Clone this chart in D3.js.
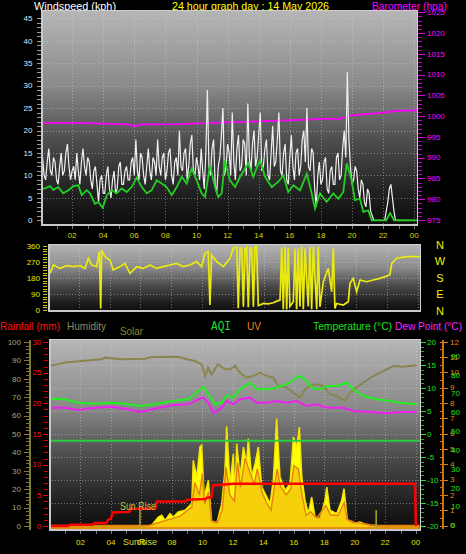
<!DOCTYPE html>
<html><head><meta charset="utf-8">
<script src="https://cdn.jsdelivr.net/npm/d3@7"></script>
<style>html,body{margin:0;padding:0;background:#000;}svg{display:block;font-family:"Liberation Sans",Arial,sans-serif;}</style>
</head><body><svg id="c" width="466" height="554"></svg>
<script>
// ---------------- DATA ----------------
const titleText = "24 hour graph day : 14 May 2026";
const hourTicks = [2,4,6,8,10,12,14,16,18,20,22,24];
const windTicks = [0,5,10,15,20,25,30,35,40,45];
const baroTicks = [975,980,985,990,995,1000,1005,1010,1015,1020,1025];
const dirTicks = [0,90,180,270,360];
const compass = ["N","W","S","E","N"];
const humTicks = [0,10,20,30,40,50,60,70,80,90,100];
const rainTicks = [0,5,10,15,20,25,30];
const tempTicks = [-20,-15,-10,-5,0,5,10,15,20];
const uvTicks = [0,1,2,3,4,5,6,7,8,9,10,11,12];
const aqiTicks = [0,10,20,30,40,50,60,70,80,90];

// wind gust (kph) sampled every 0.1 h from 00:06
const gustValues = [
  14,10,9,13,16,11,10,14,13,9,8,12,15,10,11,15,17,12,9,11,12,9,15,11,8,13,16,12,10,14,13,9,7,11,12,8,4,9,10,6,
  6,10,12,7,5,9,11,6,7,12,13,8,8,11,12,9,9,13,14,10,18,11,9,15,14,10,8,12,16,11,9,14,13,10,18,12,10,14,15,9,
  11,15,16,10,8,13,14,10,20,12,11,15,16,9,12,17,19,11,10,14,12,9,16,11,7,15,29,12,10,16,18,8,6,12,14,19,25,10,12,17,
  15,10,24,13,9,16,19,11,12,18,17,10,26,14,11,17,20,12,14,19,24,11,12,16,18,10,9,15,21,12,13,18,24,11,10,15,17,9,8,14,
  19,12,9,15,16,10,12,18,20,13,25,12,11,16,15,7,3,10,13,8,9,13,14,7,6,11,12,8,8,14,15,9,10,16,20,14,33,18,12,8,
  9,12,11,7,5,9,8,4,3,7,6,2,1,0,0,0,0,0,0,0,0,2,4,7,8,5,2,0,0,0,0,0,0,0,0,0,0,0,0,0];
// average wind speed [hour, kph]
const avgWind = [[0.06,7.0],[0.26,7.1],[0.58,7.6],[0.79,6.8],[1.11,7.4],[1.43,6.0],[1.76,6.7],[2.08,7.6],[2.40,7.8],[2.62,5.6],[2.94,6.7],[3.15,6.0],[3.47,3.7],[3.68,4.1],[3.97,2.8],[4.23,5.6],[4.55,6.7],[4.87,6.0],[5.19,7.1],[5.51,6.3],[5.83,7.4],[6.15,9.5],[6.48,7.4],[6.80,6.0],[7.12,6.7],[7.44,8.9],[7.76,8.2],[8.08,7.4],[8.41,5.6],[8.73,7.4],[9.05,9.7],[9.37,8.2],[9.69,11.5],[10.01,8.9],[10.33,6.0],[10.55,5.2],[10.87,12.3],[11.19,7.4],[11.40,5.2],[11.62,6.0],[11.83,13.4],[12.15,8.9],[12.48,7.4],[12.80,9.7],[13.33,12.7],[13.65,9.7],[14.08,13.4],[14.41,9.7],[14.84,7.4],[15.26,8.6],[15.58,10.0],[15.90,6.3],[16.23,7.8],[16.66,6.7],[17.09,10.4],[17.41,6.0],[17.62,2.6],[17.94,6.0],[18.37,4.1],[18.80,6.0],[19.12,4.8],[19.44,6.3],[19.66,12.7],[19.98,8.9],[20.19,4.5],[20.51,4.8],[20.73,1.9],[21.05,2.2],[21.27,0],[22.2,0],[22.45,1.6],[22.7,0],[24.3,0]];
// barometer [hour, hPa]
const baro = [[0.0,998.4],[2,998.4],[4,998.2],[5.5,998.0],[6.1,997.6],[6.4,998.0],[9,998.1],[11.7,998.5],[13,998.6],[15.3,998.9],[17.5,999.2],[18.5,999.4],[19.1,999.3],[20,1000.2],[20.9,1000.5],[21.8,1000.8],[23,1001.3],[24.3,1001.4]];
// wind direction [hour, degrees]
const windDir = [[0.13,206],[0.35,253],[0.78,234],[1.21,249],[1.64,244],[2.08,249],[2.40,234],[2.62,291],[2.84,253],[3.16,244],[3.33,328],[3.42,9],[3.48,337],[3.70,300],[4.02,281],[4.24,225],[4.67,244],[4.99,262],[5.32,206],[5.76,244],[6.18,234],[6.62,253],[7.05,234],[7.48,244],[7.92,253],[8.35,262],[8.78,244],[9.21,253],[9.65,272],[9.97,244],[10.19,319],[10.40,328],[10.51,28],[10.62,309],[10.95,272],[11.38,244],[11.81,291],[12.02,347],[12.25,356],[12.35,10],[12.46,350],[12.57,347],[12.68,19],[12.78,340],[12.89,356],[13.0,15],[13.11,350],[13.22,347],[13.33,19],[13.43,355],[13.54,356],[13.65,25],[13.76,28],[13.97,37],[14.3,35],[14.62,41],[14.85,50],[15.06,56],[15.17,350],[15.27,5],[15.38,355],[15.49,3],[15.59,350],[15.70,20],[15.92,47],[16.03,345],[16.14,5],[16.24,345],[16.35,20],[16.46,355],[16.57,5],[16.68,345],[16.89,20],[17.00,355],[17.11,5],[17.22,355],[17.44,5],[17.54,355],[17.65,19],[17.87,159],[18.19,234],[18.41,103],[18.52,347],[18.62,9],[18.73,37],[19.16,28],[19.49,47],[19.60,150],[19.81,178],[20.03,103],[20.25,169],[20.68,159],[21.11,169],[21.54,178],[22.19,197],[22.30,260],[22.41,272],[22.63,291],[23.28,300],[24.2,300]];
// humidity [hour, %]
const humidity = [[0.0,87.3],[0.22,87.3],[0.98,88.8],[2.08,89.7],[3.39,90.6],[3.6,91.5],[4.7,90.6],[6.23,90.9],[6.67,91.8],[8.4,92.0],[8.86,90.9],[9.5,89.7],[9.95,87.9],[10.17,81.5],[10.37,86.0],[10.6,82.4],[11.02,87.9],[11.48,85.2],[11.81,85.2],[12.14,87.0],[12.47,83.3],[12.9,80.6],[13.34,81.5],[13.78,83.3],[14.22,81.5],[14.65,80.6],[14.98,76.1],[15.53,75.2],[15.96,72.4],[16.4,69.7],[16.73,74.3],[17.06,76.1],[17.5,77.0],[17.93,76.1],[18.37,71.6],[18.81,70.7],[19.36,67.9],[19.69,72.4],[20.12,75.2],[20.56,77.9],[21.21,81.5],[22.1,85.2],[22.53,87.0],[23.18,86.6],[24.06,87.3]];
// temperature [hour, °C]
const temperature = [[0.0,7.6],[0.22,7.67],[0.98,7.54],[1.86,6.8],[2.95,6.59],[4.05,6.8],[4.92,6.59],[5.91,6.09],[6.89,6.46],[7.99,7.17],[9.07,7.54],[9.73,9.35],[10.06,10.28],[10.39,8.63],[10.83,6.46],[11.27,6.8],[11.6,8.4],[12.03,7.9],[12.47,9.72],[13.12,11.15],[13.56,9.72],[14.22,9.72],[14.87,10.07],[15.75,11.15],[16.29,12.6],[16.73,11.9],[17.17,10.07],[17.72,9.72],[18.16,10.43],[18.81,10.43],[19.47,11.15],[19.9,9.72],[20.56,8.26],[21.44,7.54],[22.31,7.17],[22.97,6.8],[24.06,6.46]];
// dew point [hour, °C]
const dewPoint = [[0.0,5.72],[0.22,5.72],[0.98,5.72],[1.86,5.22],[2.95,5.72],[4.05,5.94],[4.92,5.5],[5.91,4.78],[6.89,5.5],[7.99,6.24],[9.07,6.46],[9.73,7.54],[10.06,7.9],[10.39,6.8],[10.72,4.5],[11.27,5.72],[11.6,7.17],[12.03,6.46],[12.47,7.54],[13.12,7.9],[13.56,6.8],[14.22,6.8],[14.87,7.17],[15.53,6.8],[16.19,7.17],[16.84,6.09],[17.5,6.46],[18.16,5.72],[19.25,5.72],[19.9,5.0],[21.0,4.78],[22.1,4.5],[22.97,4.78],[24.06,4.78]];
// air quality index [hour, AQI]
const aqi = [[0,45],[6,45],[12,45],[18,45],[24.3,45]];
// rainfall, cumulative [hour, mm]
const rainfall = [[0.0,0],[1.2,0],[1.3,0.2],[2.8,0.2],[2.9,0.5],[3.7,0.5],[3.8,1.0],[4.0,1.2],[4.1,2.2],[5.2,2.3],[5.3,2.8],[6.9,2.8],[7.0,4.0],[8.9,4.0],[9.0,4.3],[10.2,4.4],[10.3,4.6],[10.6,4.7],[10.7,6.6],[12.0,6.9],[23.95,6.9],[24.0,0]];
// solar radiation [hour, W/m²]
const solar = [[0,0],[6.23,0],[6.67,9],[7.11,54],[7.33,64],[7.55,36],[7.87,72],[8.09,54],[8.42,82],[8.86,91],[9.30,127],[9.40,362],[9.63,272],[9.84,435],[9.95,444],[10.12,163],[10.39,254],[10.61,27],[10.94,18],[11.27,127],[11.48,308],[11.59,547],[11.81,235],[12.03,398],[12.14,163],[12.25,453],[12.47,272],[12.69,435],[12.9,344],[13.01,480],[13.23,272],[13.45,344],[13.67,435],[13.89,217],[14.11,181],[14.44,127],[14.65,254],[14.87,589],[15.09,272],[15.42,199],[15.75,235],[15.97,489],[16.19,435],[16.36,543],[16.52,272],[16.73,145],[16.95,72],[17.17,163],[17.39,54],[17.72,45],[18.04,145],[18.16,217],[18.37,91],[18.81,72],[19.14,145],[19.29,208],[19.51,36],[19.9,18],[20.34,27],[21.0,4],[21.44,0],[24.2,0]];
// UV index [hour, UV]
const uv = [[0,0],[6.5,0],[7.5,0.3],[8.5,0.6],[9.3,1.2],[9.5,2.8],[9.8,2.0],[10.0,3.4],[10.15,1.4],[10.4,2.2],[10.6,0.3],[11.0,0.2],[11.3,1.0],[11.55,3.8],[11.8,2.0],[12.1,1.6],[12.3,4.1],[12.5,2.5],[12.8,4.4],[13.1,3.5],[13.4,2.7],[13.6,3.7],[13.9,2.2],[14.2,1.5],[14.5,1.0],[14.9,3.7],[15.1,2.6],[15.5,2.0],[15.8,2.4],[16.0,3.9],[16.3,3.7],[16.5,2.2],[16.8,0.65],[17.1,0.9],[17.5,0.5],[18.1,1.3],[18.4,0.7],[18.9,0.65],[19.3,1.5],[19.5,0.4],[20.0,0.2],[21.0,0.05],[21.5,0],[24.2,0]];
const sunRiseHour = 5.9;
const sunSetHour = 21.4;

// ---------------- DRAW ----------------
const svg = d3.select('#c');
const defs = svg.append('defs');
const grad = defs.append('linearGradient').attr('id','bg').attr('x1',0).attr('y1',0).attr('x2',0).attr('y2',1);
grad.selectAll('stop').data([[0,'#b6b6b6'],[0.35,'#8a8a8a'],[0.6,'#4e4e4e'],[0.85,'#202020'],[1,'#0c0c0c']])
  .join('stop').attr('offset',d=>d[0]).attr('stop-color',d=>d[1]);

function panel(p, id){
  defs.append('clipPath').attr('id',id).append('rect').attr('x',p.x0).attr('y',p.y0).attr('width',p.x1-p.x0).attr('height',p.y1-p.y0);
  svg.append('rect').attr('x',p.x0).attr('y',p.y0).attr('width',p.x1-p.x0).attr('height',p.y1-p.y0).attr('fill','url(#bg)');
}
function border(p){
  svg.append('line').attr('x1',p.x0+1).attr('x2',p.x0+1).attr('y1',p.y0).attr('y2',p.y1).attr('stroke','#c8c8c8').attr('stroke-width',2);
  svg.append('line').attr('x1',p.x0).attr('x2',p.x1).attr('y1',p.y1-1).attr('y2',p.y1-1).attr('stroke','#c8c8c8').attr('stroke-width',2);
  svg.append('line').attr('x1',p.x0).attr('x2',p.x1).attr('y1',p.y0+0.5).attr('y2',p.y0+0.5).attr('stroke','#d0d0d0').attr('stroke-width',1);
  svg.append('line').attr('x1',p.x1-0.5).attr('x2',p.x1-0.5).attr('y1',p.y0).attr('y2',p.y1).attr('stroke','#d0d0d0').attr('stroke-width',1);
}
function hgrid(p, ys){
  svg.append('g').selectAll('line').data(ys).join('line')
    .attr('x1',p.x0).attr('x2',p.x1).attr('y1',d=>Math.round(d)+0.5).attr('y2',d=>Math.round(d)+0.5)
    .attr('stroke','#d8d8d8').attr('stroke-opacity',0.45).attr('stroke-dasharray','1,2');
}
function vgrid(p, xs){
  svg.append('g').selectAll('line').data(xs).join('line')
    .attr('y1',p.y0).attr('y2',p.y1).attr('x1',d=>Math.round(d)+0.5).attr('x2',d=>Math.round(d)+0.5)
    .attr('stroke','#d8d8d8').attr('stroke-opacity',0.45).attr('stroke-dasharray','1,2');
}
function minorTicks(scale, from, to, step, x, len, color){
  const vals = d3.range(from, to+step/2, step);
  svg.append('g').selectAll('line').data(vals).join('line')
    .attr('x1',x).attr('x2',x+len).attr('y1',d=>Math.round(scale(d))+0.5).attr('y2',d=>Math.round(scale(d))+0.5)
    .attr('stroke',color).attr('stroke-width',1);
}
function labels(vals, scale, x, anchor, color, size){
  svg.append('g').selectAll('text').data(vals).join('text')
    .attr('x',x).attr('y',d=>scale(d)).attr('dy','0.35em').attr('text-anchor',anchor)
    .attr('fill',color).attr('font-size',size||8).text(d=>d);
}
const hh = d => String(d%24).padStart(2,'0');
function xLabels(scale, y, color){
  svg.append('g').selectAll('text').data(hourTicks).join('text')
    .attr('x',d=>scale(d)).attr('y',y).attr('dy','0.35em').attr('text-anchor','middle')
    .attr('fill',color).attr('font-size',8).text(hh);
}

// ===== TOP: wind + barometer =====
const topP = {x0:41,x1:418,y0:10,y1:226};
svg.append('text').attr('x',34).attr('y',9.5).attr('fill','#fff').attr('font-size',11).attr('textLength',82).attr('lengthAdjust','spacingAndGlyphs').text('Windspeed (kph)');
svg.append('text').attr('x',172).attr('y',9.5).attr('fill','#ffff00').attr('font-size',11).attr('textLength',157).attr('lengthAdjust','spacingAndGlyphs').text(titleText);
svg.append('text').attr('x',372).attr('y',9.5).attr('fill','#ff00ff').attr('font-size',11).attr('textLength',75).attr('lengthAdjust','spacingAndGlyphs').text('Barometer (hpa)');
panel(topP,'clipTop');
const xTop = d3.scaleLinear([0,24],[41,414.2]);
const yWind = d3.scaleLinear([0,45],[220.3,18.3]);
const yBaro = d3.scaleLinear([975,1025],[220,12.3]);
hgrid(topP, windTicks.slice(1).map(yWind));
vgrid(topP, hourTicks.map(xTop));
const gTop = svg.append('g').attr('clip-path','url(#clipTop)');
gTop.append('path').datum(baro).attr('fill','none').attr('stroke','#ff00ff').attr('stroke-width',1.8)
  .attr('d', d3.line().x(d=>xTop(d[0])).y(d=>yBaro(d[1])));
const gustTimes = gustValues.map((v,i)=>0.1+i*0.1);
gTop.append('path').datum(gustValues).attr('fill','none').attr('stroke','#f0f0f0').attr('stroke-width',1.2)
  .attr('d', d3.line().x((d,i)=>xTop(gustTimes[i])).y(d=>yWind(d)));
gTop.append('path').datum(avgWind).attr('fill','none').attr('stroke','#22d022').attr('stroke-width',1.8)
  .attr('d', d3.line().x(d=>xTop(d[0])).y(d=>yWind(d[1])));
border(topP);
minorTicks(yWind,0,45,1,37,4,'#9a9a9a');
labels(windTicks, yWind, 32.5, 'end', '#d4ecff');
minorTicks(yBaro,975,1025,1,418,4,'#c000c0');
minorTicks(yBaro,975,1025,5,418,7,'#e000e0');
labels(baroTicks, yBaro, 427, 'start', '#ff00ff');
svg.append('g').selectAll('line').data(d3.range(1,25)).join('line')
  .attr('x1',d=>Math.round(xTop(d))+0.5).attr('x2',d=>Math.round(xTop(d))+0.5).attr('y1',226).attr('y2',229).attr('stroke','#777');
xLabels(xTop, 235, '#d8d800');

// ===== MIDDLE: wind direction =====
const midP = {x0:48,x1:421,y0:244,y1:312};
panel(midP,'clipMid');
const xMid = d3.scaleLinear([0,24],[48,417.8]);
const yDir = d3.scaleLinear([0,360],[310,246]);
hgrid(midP, [90,180,270].map(yDir));
vgrid(midP, hourTicks.map(xMid));
svg.append('g').attr('clip-path','url(#clipMid)').append('path').datum(windDir)
  .attr('fill','none').attr('stroke','#eaea10').attr('stroke-width',1.7)
  .attr('d', d3.line().x(d=>xMid(d[0])).y(d=>yDir(d[1])));
border(midP);
minorTicks(yDir,0,360,15,43,4,'#c8c800');
labels(dirTicks, yDir, 40, 'end', '#e8e800');
svg.append('g').selectAll('text').data(compass).join('text')
  .attr('x',440).attr('y',(d,i)=>245+i*16.5).attr('dy','0.35em').attr('text-anchor','middle')
  .attr('fill','#f0f000').attr('font-size',11).text(d=>d);

// ===== BOTTOM: rain, humidity, solar, AQI, UV, temp, dew =====
const botP = {x0:49,x1:421,y0:339,y1:531};
const hdr = [
  ['Rainfall (mm)',0,330,'#ff1010',60],
  ['Humidity',67,330,'#8e8c60',39],
  ['Solar',120,335,'#8c8a20',23],
  ['UV',247,329.5,'#f08010',14],
  ['Temperature (°C)',313,330,'#20e020',79],
  ['Dew Point (°C)',395,330,'#ff20ff',67]
];
svg.append('g').selectAll('text').data(hdr).join('text')
  .attr('x',d=>d[1]).attr('y',d=>d[2]).attr('fill',d=>d[3]).attr('font-size',11)
  .attr('textLength',d=>d[4]).attr('lengthAdjust','spacingAndGlyphs').text(d=>d[0]);
svg.append('text').attr('x',211).attr('y',330).attr('fill','#10e030').attr('font-size',12)
  .attr('font-family','"Liberation Mono",monospace').attr('textLength',20).attr('lengthAdjust','spacingAndGlyphs').text('AQI');

panel(botP,'clipBot');
const xBot = d3.scaleLinear([0,24],[50,415.8]);
const yHum = d3.scaleLinear([0,100],[526,342]);
const yRain = d3.scaleLinear([0,30],[526,342]);
const yTemp = d3.scaleLinear([-20,20],[526,342]);
const yUV = d3.scaleLinear([0,12],[525.5,341.7]);
const yAQI = d3.scaleLinear([0,100],[525.5,337]);
const ySolar = d3.scaleLinear([0,1000],[527,343]);
hgrid(botP, tempTicks.slice(1).map(yTemp));
vgrid(botP, hourTicks.map(xBot));
const gB = svg.append('g').attr('clip-path','url(#clipBot)');
gB.append('path').datum(solar).attr('fill','#ffff00').attr('stroke','#f4e400').attr('stroke-width',1.5)
  .attr('d', d3.area().x(d=>xBot(d[0])).y0(528).y1(d=>ySolar(d[1])));
gB.append('path').datum(uv).attr('fill','#e88a18').attr('fill-opacity',0.4).attr('stroke','#e88010').attr('stroke-width',1.4)
  .attr('d', d3.area().x(d=>xBot(d[0])).y0(528).y1(d=>yUV(d[1])));
const lineB = (data, ys, color, w) => gB.append('path').datum(data).attr('fill','none').attr('stroke',color).attr('stroke-width',w)
  .attr('d', d3.line().x(d=>xBot(d[0])).y(d=>ys(d[1])));
lineB(aqi, yAQI, '#28d040', 2);
lineB(humidity, yHum, '#8a8650', 2);
lineB(dewPoint, yTemp, '#ee22ee', 2);
lineB(temperature, yTemp, '#22ee22', 2);
lineB(rainfall, yRain, '#ff0000', 2.5);
[sunRiseHour, sunSetHour].forEach(h=>{
  gB.append('line').attr('x1',xBot(h)).attr('x2',xBot(h)).attr('y1',510).attr('y2',530).attr('stroke','#a8a830').attr('stroke-width',1.5);
});
gB.append('text').attr('x',120).attr('y',510).attr('fill','#c0c040').attr('font-size',10).attr('textLength',36).attr('lengthAdjust','spacingAndGlyphs').text('Sun Rise');
border(botP);
// left axes
svg.append('line').attr('x1',30).attr('x2',30).attr('y1',340).attr('y2',530).attr('stroke','#7e7a3a').attr('stroke-width',2);
minorTicks(yHum,0,100,2,26,4,'#7e7a3a');
minorTicks(yHum,0,100,10,24,6,'#7e7a3a');
labels(humTicks, yHum, 21, 'end', '#a8a470');
minorTicks(yRain,0,30,1,44,4,'#d00000');
minorTicks(yRain,0,30,5,43,5,'#ff0000');
labels(rainTicks, yRain, 41.5, 'end', '#ff1010');
// right axes
minorTicks(yTemp,-20,20,1,421,3,'#20b020');
minorTicks(yTemp,-20,20,5,421,5,'#20e020');
labels(tempTicks, yTemp, 427, 'start', '#22e022');
svg.append('line').attr('x1',443).attr('x2',443).attr('y1',340).attr('y2',529).attr('stroke','#d07010').attr('stroke-width',2);
minorTicks(yUV,0,12,0.5,440,3,'#d07010');
minorTicks(yUV,0,12,1,444,4,'#e08010');
labels(uvTicks, yUV, 450, 'start', '#f08010');
labels(aqiTicks, yAQI, 451, 'start', '#22e022');
// bottom x axis
svg.append('g').selectAll('line').data(d3.range(1,25)).join('line')
  .attr('x1',d=>Math.round(xBot(d))+0.5).attr('x2',d=>Math.round(xBot(d))+0.5).attr('y1',531).attr('y2',534).attr('stroke','#777');
xLabels(xBot, 542, '#e0e000');
svg.append('text').attr('x',xBot(sunRiseHour)).attr('y',542).attr('dy','0.35em').attr('text-anchor','middle')
  .attr('fill','#d8d840').attr('font-size',9).text('SunRise');
</script></body></html>
